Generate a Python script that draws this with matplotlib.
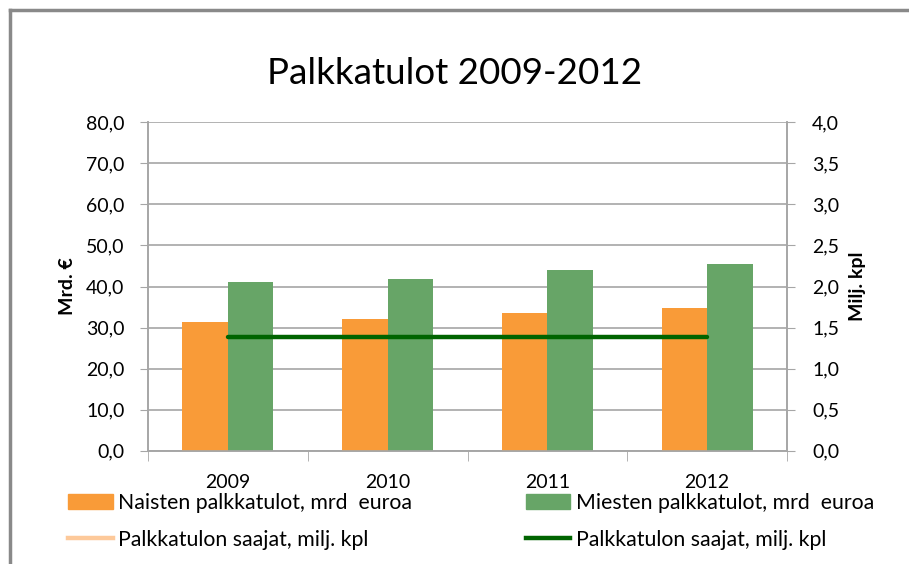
import numpy as np
from matplotlib import pyplot as plt
from matplotlib.lines import Line2D
from matplotlib.patches import Patch
from matplotlib.ticker import FuncFormatter, MultipleLocator

years = ['2009', '2010', '2011', '2012']
naiset = [31.3, 32.1, 33.5, 34.8]
miehet = [41.0, 41.8, 44.0, 45.6]
saajat = [1.39, 1.39, 1.39, 1.39]

c_orange = '#F99B38'
c_green = '#67A567'
c_dark = '#006400'
c_light = '#FDC99A'
c_grid = '#A6A6A6'

plt.rcParams['font.family'] = ['Lato', 'DejaVu Sans']

fig = plt.figure(figsize=(9.09, 5.64), dpi=100)
ax = fig.add_axes([148 / 909, 1 - 450.7 / 564, (787 - 148) / 909, (450.7 - 122.3) / 564])
ax2 = ax.twinx()

x = np.arange(len(years))
w = 0.285
ax.bar(x - w / 2, naiset, w, color=c_orange, zorder=3)
ax.bar(x + w / 2, miehet, w, color=c_green, zorder=3)
ax2.plot(x, saajat, color=c_dark, lw=3.2, solid_capstyle='round', zorder=4)

ax.set_xlim(-0.5, 3.5)
ax.set_ylim(0, 80)
ax2.set_ylim(0, 4)
ax.yaxis.set_major_locator(MultipleLocator(10))
ax2.yaxis.set_major_locator(MultipleLocator(0.5))
fmt = FuncFormatter(lambda v, p: f'{v:.1f}'.replace('.', ','))
ax.yaxis.set_major_formatter(fmt)
ax2.yaxis.set_major_formatter(fmt)

ax.set_xticks(x)
ax.set_xticklabels(years)
ax.set_xticks(np.arange(-0.5, 4, 1), minor=True)
ax.tick_params(axis='x', which='major', length=0, labelsize=14, pad=17)
ax.tick_params(axis='x', which='minor', length=7, color=c_grid, direction='out')
ax.tick_params(axis='y', length=6, color=c_grid, labelsize=14, pad=11)
ax2.tick_params(axis='y', length=6, color=c_grid, labelsize=14, pad=12)

ax.grid(axis='y', color=c_grid, lw=1.2, zorder=0)
for a in (ax, ax2):
    a.spines['top'].set_visible(False)
    for s in ('left', 'right', 'bottom'):
        a.spines[s].set_color(c_grid)
        a.spines[s].set_linewidth(1.2)

ax.set_ylabel('Mrd. €', fontsize=14, fontweight='bold', labelpad=7)
ax2.set_ylabel('Milj. kpl', fontsize=14, fontweight='bold', labelpad=7)

fig.text(0.5, 1 - 74 / 564, 'Palkkatulot 2009-2012', ha='center', va='center', fontsize=26.5)

handles = [
    Patch(color=c_orange, label='Naisten palkkatulot, mrd  euroa'),
    Line2D([], [], color=c_light, lw=3.2, label='Palkkatulon saajat, milj. kpl'),
    Patch(color=c_green, label='Miesten palkkatulot, mrd  euroa'),
    Line2D([], [], color=c_dark, lw=3.2, label='Palkkatulon saajat, milj. kpl'),
]
fig.legend(handles=handles, ncol=2, loc='upper left', bbox_to_anchor=(68 / 909, 1 - 493 / 564),
           frameon=False, fontsize=15.3, handlelength=2.1, handleheight=0.75, handletextpad=0.25,
           columnspacing=5.35, labelspacing=0.8, borderaxespad=0, borderpad=0)

fig.add_artist(Line2D([10 / 909, 1], [1 - 10 / 564, 1 - 10 / 564], color='#898989', lw=2.5))
fig.add_artist(Line2D([10 / 909, 10 / 909], [0, 1 - 10 / 564], color='#898989', lw=2.5))

fig.savefig('out.png', dpi=100)
